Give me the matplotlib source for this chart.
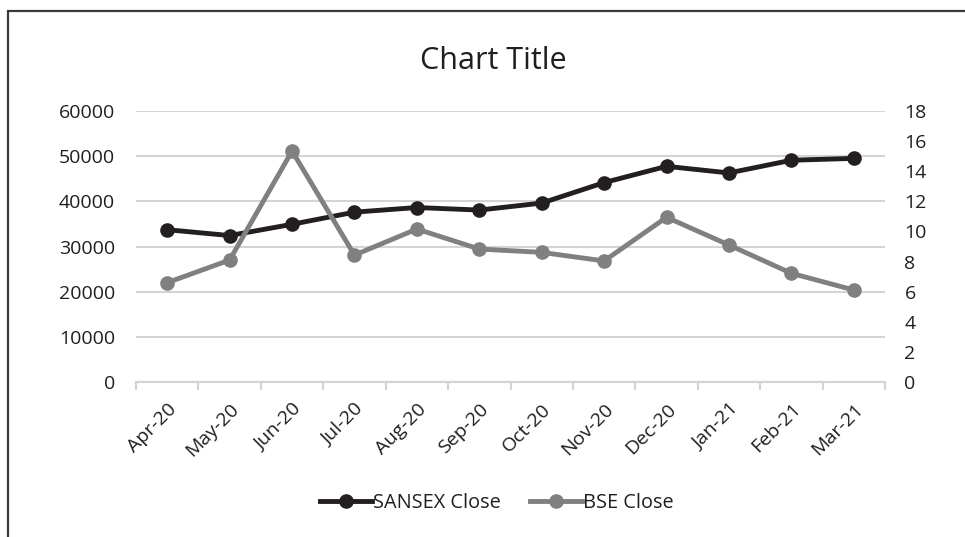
import matplotlib.pyplot as plt
from matplotlib.patches import Rectangle

months = ['Apr-20', 'May-20', 'Jun-20', 'Jul-20', 'Aug-20', 'Sep-20',
          'Oct-20', 'Nov-20', 'Dec-20', 'Jan-21', 'Feb-21', 'Mar-21']
sansex_close = [33718, 32424, 34916, 37607, 38628, 38068,
                39614, 44150, 47751, 46286, 49100, 49509]
bse_close = [6.60, 8.10, 15.34, 8.43, 10.16, 8.83,
             8.61, 8.04, 10.94, 9.10, 7.22, 6.11]
left_ticks = [0, 10000, 20000, 30000, 40000, 50000, 60000]
right_ticks = [0, 2, 4, 6, 8, 10, 12, 14, 16, 18]

plt.rcParams['font.family'] = ['Open Sans', 'DejaVu Sans']

fig = plt.figure(figsize=(9.65, 5.37), dpi=100)
W, H = 965, 537
ax = fig.add_axes([136 / W, 1 - 382 / H, (885 - 136) / W, (382 - 111) / H])
ax2 = ax.twinx()

x = list(range(len(months)))
grid_c = '#d4d4d4'
text_c = '#1f1f1f'

ax.set_ylim(0, 60000)
ax.set_yticks(left_ticks)
ax.set_yticklabels([str(t) for t in left_ticks])
ax.yaxis.grid(True, color=grid_c, lw=1.5)
ax.set_axisbelow(True)
ax.set_xlim(-0.5, len(months) - 0.5)
ax.set_xticks(x)
ax.set_xticklabels(months, rotation=45, ha='right', rotation_mode='anchor')
ax.set_xticks([i - 0.5 for i in range(len(months) + 1)], minor=True)
ax.tick_params(axis='x', which='major', length=0, pad=13, labelsize=14, colors=text_c)
ax.tick_params(axis='x', which='minor', length=6, width=1.5, color=grid_c)
ax.tick_params(axis='y', length=0, pad=15, labelsize=14, colors=text_c)

ax2.set_ylim(0, 18)
ax2.set_yticks(right_ticks)
ax2.tick_params(axis='y', length=0, pad=14, labelsize=14, colors=text_c)

for a in (ax, ax2):
    for s in ('top', 'left', 'right'):
        a.spines[s].set_visible(False)
    a.spines['bottom'].set_color(grid_c)
    a.spines['bottom'].set_linewidth(1.5)

l1, = ax.plot(x, sansex_close, color='#231f20', lw=3.5, marker='o',
              markersize=9.5, label='SANSEX Close', zorder=3)
l2, = ax2.plot(x, bse_close, color='#808080', lw=3.5, marker='o',
               markersize=9.5, label='BSE Close', zorder=3)

fig.text(493 / W, 1 - 61 / H, 'Chart Title', ha='center', va='center',
         fontsize=22, color=text_c)

fig.legend(handles=[l1, l2], loc='center', bbox_to_anchor=(497 / W, 1 - 503 / H),
           ncol=2, frameon=False, fontsize=14.3, handlelength=2.6,
           columnspacing=1.5, handletextpad=0.05, labelcolor=text_c)

fig.patches.append(Rectangle((8 / W, -0.2), 1.2, 1.2 - 11 / H,
                             transform=fig.transFigure, fill=False,
                             edgecolor='#3a3a3a', lw=1.6))

fig.savefig('out.png', dpi=100)
